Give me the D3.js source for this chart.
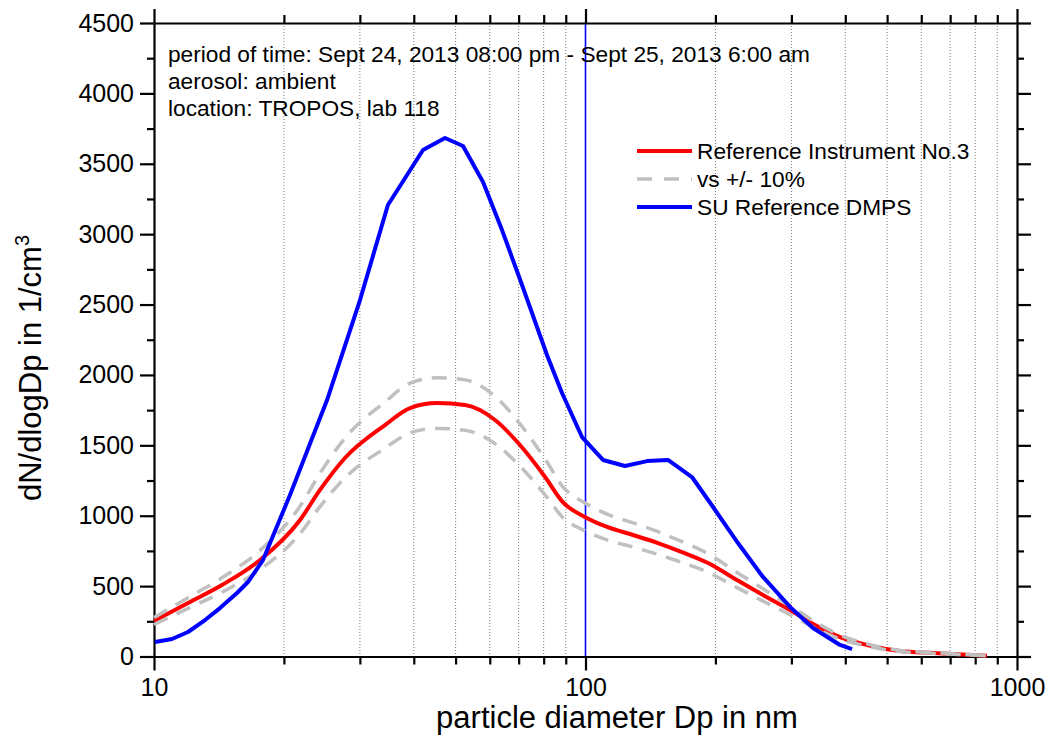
<!DOCTYPE html>
<html><head><meta charset="utf-8">
<script src="https://cdn.jsdelivr.net/npm/d3@7"></script>
<style>
body{margin:0;background:#fff}
svg text{font-family:"Liberation Sans",Arial,Helvetica,sans-serif;fill:#000}
</style>
</head><body>
<svg id="chart" width="1052" height="742"></svg>
<script>
// ---- data ----
const refD = [10.0,11.99,14.37,17.61,21.8,24.25,27.7,34.3,39.2,45.3,52.6,61.7,70.5,80.6,88.7,99.7,112.2,128.9,147.2,167.3,192.3,224.4,257.8,297.8,340.4,388.9,449.2,535.6,638.9,852];
const refV = [252,380,508,685,970,1183,1410,1644,1765,1800,1786,1680,1502,1275,1095,991,920,863,806,742,664,543,437,330,224,138,82,39,25,6];
const upperV = [277,418,559,754,1067,1301,1551,1808,1942,1980,1965,1848,1652,1403,1204,1090,1012,949,887,816,730,597,481,363,246,152,90,43,28,7];
const lowerV = [227,342,457,617,873,1065,1269,1480,1589,1620,1607,1512,1352,1148,986,892,828,777,725,668,598,489,393,297,202,124,74,35,23,5];
const dmpsD = [10.05,11.01,11.99,13.13,14.22,15.57,16.51,17.89,20.66,25.18,30.02,34.84,42.01,47.25,52.01,57.88,64.06,71.27,81.42,88.22,98.15,109.8,123.5,138.8,155.3,176.5,197.5,225.6,257.8,297.8,336.7,388.9,414.7];
const dmpsV = [103,124,174,259,344,451,529,685,1147,1822,2532,3207,3598,3683,3626,3370,3029,2639,2142,1872,1559,1396,1353,1388,1396,1275,1062,806,565,352,202,82,53];
const xMajor = [10,100,1000];
const xMinor = [20,30,40,50,60,70,80,90,200,300,400,500,600,700,800,900];
const yMajor = [0,500,1000,1500,2000,2500,3000,3500,4000,4500];
const yMinor = [250,750,1250,1750,2250,2750,3250,3750,4250];
const markerD = [100];
const infoLines = ["period of time: Sept 24, 2013 08:00 pm - Sept 25, 2013 6:00 am","aerosol: ambient","location: TROPOS, lab 118"];
const legendLabels = ["Reference Instrument No.3","vs +/- 10%","SU Reference DMPS"];
const xTitle = "particle diameter Dp in nm";

// ---- layout ----
const L = 154, R = 1017, T = 23, B = 656.5;
const svg = d3.select("#chart");
const x = d3.scaleLog().domain([10,1000]).range([L,R]);
const y = d3.scaleLinear().domain([0,4500]).range([B,T]);

// grid (dotted)
svg.append("g").selectAll("line").data(xMinor).join("line")
  .attr("x1",d=>x(d)).attr("x2",d=>x(d)).attr("y1",T).attr("y2",B)
  .attr("stroke","#777").attr("stroke-width",1).attr("stroke-dasharray","1,2");

// marker line at 100
svg.append("g").selectAll("line").data(markerD).join("line")
  .attr("x1",d=>x(d)).attr("x2",d=>x(d)).attr("y1",T).attr("y2",B)
  .attr("stroke","#0000ff").attr("stroke-width",1.6);

function styleAxis(g){
  g.selectAll(".domain").attr("stroke","#000").attr("stroke-width",2.2);
  g.selectAll(".tick line").attr("stroke","#000").attr("stroke-width",2.2);
}
const fmt = d3.format("d");
// bottom
const gxMin = svg.append("g").attr("transform",`translate(0,${B})`)
  .call(d3.axisBottom(x).tickValues(xMinor).tickSize(8).tickFormat("").tickSizeOuter(0));
styleAxis(gxMin); gxMin.select(".domain").remove();
const gx = svg.append("g").attr("transform",`translate(0,${B})`)
  .call(d3.axisBottom(x).tickValues(xMajor).tickSize(14).tickPadding(8).tickFormat(fmt).tickSizeOuter(0));
styleAxis(gx);
gx.selectAll(".tick text").attr("font-size",25).attr("font-family","Liberation Sans, Arial, sans-serif").attr("fill","#000");
// top
const gtMin = svg.append("g").attr("transform",`translate(0,${T})`)
  .call(d3.axisTop(x).tickValues(xMinor).tickSize(8).tickFormat("").tickSizeOuter(0));
styleAxis(gtMin); gtMin.select(".domain").remove();
const gt = svg.append("g").attr("transform",`translate(0,${T})`)
  .call(d3.axisTop(x).tickValues(xMajor).tickSize(14).tickFormat("").tickSizeOuter(0));
styleAxis(gt);
// left
const gyMin = svg.append("g").attr("transform",`translate(${L},0)`)
  .call(d3.axisLeft(y).tickValues(yMinor).tickSize(7).tickFormat("").tickSizeOuter(0));
styleAxis(gyMin); gyMin.select(".domain").remove();
const gy = svg.append("g").attr("transform",`translate(${L},0)`)
  .call(d3.axisLeft(y).tickValues(yMajor).tickSize(14).tickPadding(6).tickFormat(fmt).tickSizeOuter(0));
styleAxis(gy);
gy.selectAll(".tick text").attr("font-size",25).attr("font-family","Liberation Sans, Arial, sans-serif").attr("fill","#000");
// right
const grMin = svg.append("g").attr("transform",`translate(${R},0)`)
  .call(d3.axisRight(y).tickValues(yMinor).tickSize(7).tickFormat("").tickSizeOuter(0));
styleAxis(grMin); grMin.select(".domain").remove();
const gr = svg.append("g").attr("transform",`translate(${R},0)`)
  .call(d3.axisRight(y).tickValues(yMajor).tickSize(14).tickFormat("").tickSizeOuter(0));
styleAxis(gr);

// series
const lineRef = d3.line().x((d,i)=>x(refD[i])).y(d=>y(d)).curve(d3.curveMonotoneX);
svg.append("path").datum(refV).attr("d",lineRef).attr("fill","none")
  .attr("stroke","#ff0000").attr("stroke-width",4).attr("stroke-linejoin","round");
[upperV,lowerV].forEach(arr=>{
  svg.append("path").datum(arr).attr("d",lineRef).attr("fill","none")
    .attr("stroke","#c0c0c0").attr("stroke-width",3.5).attr("stroke-dasharray","15,10");
});
const lineD = d3.line().x((d,i)=>x(dmpsD[i])).y(d=>y(d));
svg.append("path").datum(dmpsV).attr("d",lineD).attr("fill","none")
  .attr("stroke","#0000ff").attr("stroke-width",4).attr("stroke-linejoin","round");

// annotation
svg.append("g").selectAll("text").data(infoLines).join("text")
  .attr("x",168).attr("y",(d,i)=>62+i*27).attr("font-size",22.7).text(d=>d);

// legend
const legColors = ["#ff0000","#c0c0c0","#0000ff"];
const lg = svg.append("g");
legendLabels.forEach((lab,i)=>{
  const yy = 151 + i*28;
  lg.append("line").attr("x1",637).attr("x2",692).attr("y1",yy).attr("y2",yy)
    .attr("stroke",legColors[i]).attr("stroke-width",i===1?3.5:4)
    .attr("stroke-dasharray",i===1?"15,12":null);
  lg.append("text").attr("x",697).attr("y",yy+7.5).attr("font-size",22.7).text(lab);
});

// axis titles
svg.append("text").attr("x",617).attr("y",728).attr("text-anchor","middle")
  .attr("font-size",31).text(xTitle);
const yt = svg.append("text").attr("transform","translate(41,368) rotate(-90)")
  .attr("text-anchor","middle").attr("font-size",31);
yt.append("tspan").text("dN/dlogDp in 1/cm");
yt.append("tspan").attr("dy",-12).attr("font-size",20).text("3");
</script>
</body></html>
